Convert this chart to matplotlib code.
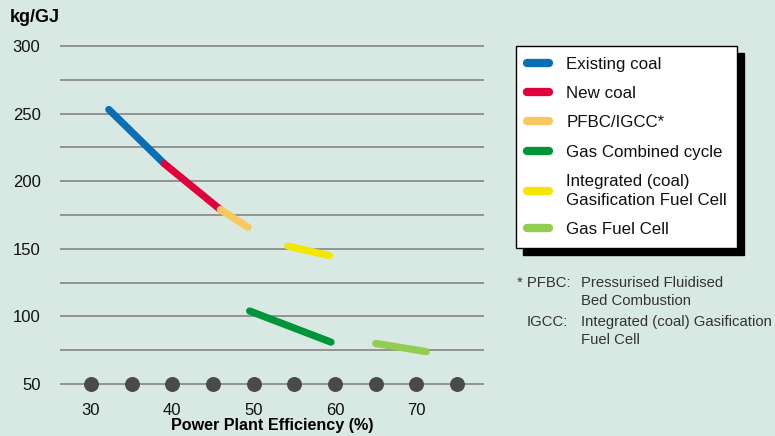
import numpy as np
import matplotlib
matplotlib.use("Agg")
import matplotlib.pyplot as plt
from matplotlib.lines import Line2D

plt.rcParams['font.family'] = ['Liberation Sans', 'DejaVu Sans']

# data
series_names = ["Existing coal", "New coal", "PFBC/IGCC*", "Gas Combined cycle",
                "Integrated (coal)\nGasification Fuel Cell", "Gas Fuel Cell"]
series_colors = ["#0a6eb4", "#e0003c", "#f8c860", "#009638", "#f5e600", "#92cc50"]
existing_coal_x = [32.2, 39.0]
existing_coal_y = [253, 213]
new_coal_x = [39.0, 45.9]
new_coal_y = [213, 179]
pfbc_x = [45.9, 49.3]
pfbc_y = [179, 166]
gas_cc_x = [49.5, 59.5]
gas_cc_y = [104, 81]
igfc_x = [54.2, 59.3]
igfc_y = [152, 145]
gas_fc_x = [65.0, 71.2]
gas_fc_y = [80, 74]
dot_x = [30, 35, 40, 45, 50, 55, 60, 65, 70, 75]
x_ticks = [30, 40, 50, 60, 70]
y_ticks = [50, 100, 150, 200, 250, 300]
grid_y = [50, 75, 100, 125, 150, 175, 200, 225, 250, 275, 300]

bg = "#d8e8e2"

fig = plt.figure(figsize=(7.75, 4.36), dpi=100, facecolor=bg)
ax = fig.add_axes([60/775, 1-395/436, 424/775, 365/436])
ax.set_facecolor(bg)
ax.set_xlim(26.2, 78.3)
ax.set_ylim(41.9, 311.8)
for s in ax.spines.values():
    s.set_visible(False)

ax.hlines(grid_y, 26.2, 78.3, color="#8c8c8c", lw=1.3, zorder=1)

xs = [existing_coal_x, new_coal_x, pfbc_x, gas_cc_x, igfc_x, gas_fc_x]
ys = [existing_coal_y, new_coal_y, pfbc_y, gas_cc_y, igfc_y, gas_fc_y]
for x, y, c in zip(xs, ys, series_colors):
    ax.plot(x, y, color=c, lw=5.2, solid_capstyle='round', zorder=3)

ax.scatter(dot_x, [50]*len(dot_x), s=95, color="#4a4a4a", zorder=4)

ax.set_xticks(x_ticks)
ax.set_yticks(y_ticks)
ax.tick_params(length=0, colors="#111111", labelsize=12)
ax.tick_params(axis='y', pad=14)
ax.tick_params(axis='x', pad=6)
ax.set_xlabel("Power Plant Efficiency (%)", fontsize=11.6, fontweight='bold', labelpad=0)
fig.text(10/775, 1-17/436, "kg/GJ", fontsize=13, fontweight='bold', va='center')

handles = [Line2D([0], [0], color=c, lw=6, solid_capstyle='round') for c in series_colors]
leg = fig.legend(handles, series_names, loc='upper left',
                 bbox_to_anchor=(516/775, 1-46/436), borderaxespad=0, fontsize=12.2,
                 frameon=True, fancybox=False, edgecolor='black',
                 framealpha=1, facecolor='white', handlelength=1.35,
                 handletextpad=1.0, labelspacing=0.85, borderpad=0.62,
                 shadow={'ox': 5, 'oy': -5, 'color': 'black', 'alpha': 1})
leg.get_frame().set_linewidth(1.0)
for t in leg.get_texts():
    t.set_color("#111111")
    t.set_linespacing(1.3)

fn = dict(fontsize=10.7, color="#333333", va='center')
fig.text(517/775, 1-283/436, "* PFBC:", **fn)
fig.text(581/775, 1-283/436, "Pressurised Fluidised", **fn)
fig.text(581/775, 1-301/436, "Bed Combustion", **fn)
fig.text(527/775, 1-322/436, "IGCC:", **fn)
fig.text(581/775, 1-322/436, "Integrated (coal) Gasification", **fn)
fig.text(581/775, 1-340/436, "Fuel Cell", **fn)

fig.savefig("out.png", dpi=100, facecolor=bg)
